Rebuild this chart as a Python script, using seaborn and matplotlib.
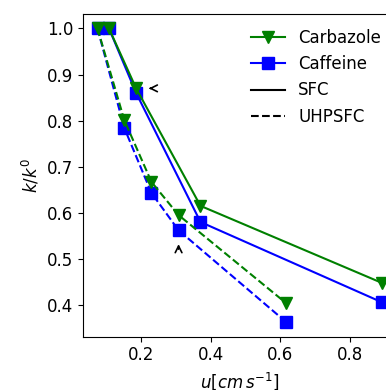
import pandas as pd
import matplotlib
matplotlib.use("Agg")
import matplotlib.pyplot as plt
import seaborn as sns
from matplotlib.lines import Line2D

# velocity u [cm/s] and normalised retention k/k0
u_sfc = [0.108, 0.186, 0.371, 0.892]
u_uhpsfc = [0.075, 0.152, 0.230, 0.308, 0.617]

carbazole_sfc = [1.0, 0.870, 0.615, 0.448]
caffeine_sfc = [1.0, 0.860, 0.580, 0.406]
carbazole_uhpsfc = [1.0, 0.801, 0.667, 0.595, 0.404]
caffeine_uhpsfc = [1.0, 0.784, 0.643, 0.562, 0.363]

plt.rcParams['font.size'] = 12

fig = plt.figure(figsize=(3.86, 3.90), dpi=100)
ax = fig.add_axes([0.2158, 0.1367, 0.810, 0.828])

# caffeine drawn first so carbazole triangles sit on top
series = [
    (u_sfc, caffeine_sfc, 'blue', 's', '-'),
    (u_uhpsfc, caffeine_uhpsfc, 'blue', 's', '--'),
    (u_sfc, carbazole_sfc, 'green', 'v', '-'),
    (u_uhpsfc, carbazole_uhpsfc, 'green', 'v', '--'),
]
for u, k, color, marker, ls in series:
    df = pd.DataFrame({'u': u, 'k': k})
    sns.lineplot(data=df, x='u', y='k', ax=ax, color=color, marker=marker,
                 linestyle=ls, markersize=8, markeredgecolor=color,
                 markeredgewidth=1, linewidth=1.5, legend=False, sort=False)

# arrows marking the optimum points
ax.annotate('', xy=(0.2145, 0.870), xytext=(0.239, 0.870),
            arrowprops=dict(arrowstyle='->', lw=1.2, color='black'))
ax.annotate('', xy=(0.308, 0.538), xytext=(0.308, 0.515),
            arrowprops=dict(arrowstyle='->', lw=1.2, color='black'))

ax.set_xlabel(r'$u [cm\, s^{-1}]$')
ax.set_ylabel(r'$k/k^0$')
ax.set_xticks([0.2, 0.4, 0.6, 0.8])
ax.set_yticks([0.4, 0.5, 0.6, 0.7, 0.8, 0.9, 1.0])

handles = [
    Line2D([], [], color='green', marker='v', markersize=8, label='Carbazole'),
    Line2D([], [], color='blue', marker='s', markersize=8, label='Caffeine'),
    Line2D([], [], color='black', linestyle='-', label='SFC'),
    Line2D([], [], color='black', linestyle='--', label='UHPSFC'),
]
ax.legend(handles=handles, loc='upper right', frameon=False)

fig.savefig('out.png', dpi=100)
